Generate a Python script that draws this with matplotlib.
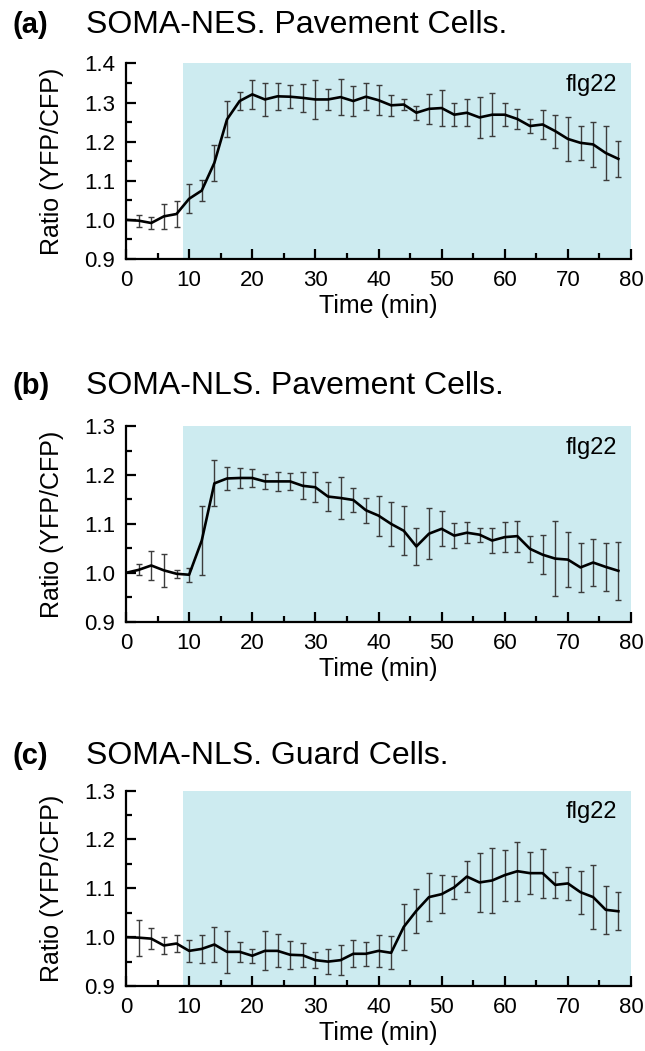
import numpy as np
import matplotlib
matplotlib.use("Agg")
import matplotlib.pyplot as plt
from matplotlib.ticker import MultipleLocator

plt.rcParams['font.family'] = ['Liberation Sans', 'DejaVu Sans']

# time points (min), one every 2 min
time = np.arange(0, 80, 2)

# (a) SOMA-NES, pavement cells
nes_pav = [1.000, 0.998, 0.992, 1.009, 1.015, 1.054, 1.075, 1.146, 1.257, 1.304,
           1.321, 1.308, 1.316, 1.315, 1.312, 1.308, 1.308, 1.314, 1.304, 1.315,
           1.306, 1.293, 1.295, 1.274, 1.284, 1.286, 1.269, 1.274, 1.262, 1.269,
           1.269, 1.258, 1.240, 1.244, 1.227, 1.207, 1.197, 1.193, 1.171, 1.156]
nes_pav_err = [np.nan, 0.015, 0.016, 0.032, 0.032, 0.037, 0.028, 0.046, 0.046, 0.023,
               0.038, 0.043, 0.034, 0.030, 0.035, 0.050, 0.026, 0.046, 0.039, 0.034,
               0.038, 0.027, 0.014, 0.018, 0.038, 0.047, 0.030, 0.035, 0.052, 0.055,
               0.029, 0.025, 0.017, 0.038, 0.042, 0.056, 0.044, 0.058, 0.068, 0.047]

# (b) SOMA-NLS, pavement cells
nls_pav = [1.000, 1.006, 1.015, 1.005, 0.998, 0.996, 1.066, 1.183, 1.193, 1.194,
           1.194, 1.187, 1.187, 1.187, 1.178, 1.175, 1.156, 1.153, 1.149, 1.128,
           1.117, 1.100, 1.086, 1.054, 1.080, 1.090, 1.076, 1.082, 1.078, 1.066,
           1.073, 1.075, 1.049, 1.037, 1.029, 1.027, 1.011, 1.021, 1.012, 1.004]
nls_pav_err = [np.nan, 0.011, 0.030, 0.034, 0.008, 0.014, 0.070, 0.047, 0.024, 0.021,
               0.019, 0.015, 0.020, 0.018, 0.028, 0.031, 0.029, 0.043, 0.024, 0.026,
               0.041, 0.045, 0.050, 0.038, 0.052, 0.036, 0.025, 0.022, 0.014, 0.026,
               0.031, 0.032, 0.027, 0.040, 0.076, 0.057, 0.050, 0.048, 0.049, 0.059]

# (c) SOMA-NLS, guard cells
nls_guard = [1.000, 0.999, 0.997, 0.983, 0.987, 0.972, 0.976, 0.985, 0.970, 0.970,
             0.962, 0.972, 0.972, 0.964, 0.963, 0.953, 0.950, 0.953, 0.966, 0.966,
             0.972, 0.968, 1.021, 1.054, 1.082, 1.088, 1.102, 1.124, 1.112, 1.116,
             1.127, 1.135, 1.131, 1.131, 1.107, 1.110, 1.092, 1.082, 1.056, 1.053]
nls_guard_err = [np.nan, 0.037, 0.022, 0.017, 0.017, 0.022, 0.029, 0.035, 0.043, 0.021,
                 0.014, 0.040, 0.034, 0.029, 0.025, 0.016, 0.025, 0.030, 0.028, 0.024,
                 0.033, 0.034, 0.047, 0.045, 0.049, 0.039, 0.023, 0.031, 0.060, 0.067,
                 0.052, 0.060, 0.043, 0.050, 0.026, 0.033, 0.044, 0.066, 0.049, 0.039]

panels = [
    ('(a)', 'SOMA-NES. Pavement Cells.', nes_pav, nes_pav_err, (0.9, 1.4), 0.7536, 25),
    ('(b)', 'SOMA-NLS. Pavement Cells.', nls_pav, nls_pav_err, (0.9, 1.3), 0.4085, 386),
    ('(c)', 'SOMA-NLS. Guard Cells.', nls_guard, nls_guard_err, (0.9, 1.3), 0.0618, 756),
]

flg22_start = 9
W, H = 645, 1051

fig = plt.figure(figsize=(6.45, 10.51), dpi=100)

for letter, title, mean, err, ylim, bottom, title_y in panels:
    ax = fig.add_axes([126 / W, bottom, 505 / W, 0.186])
    ax.axvspan(flg22_start, 80, color='#cdebf0', lw=0, zorder=0)
    ax.errorbar(time, mean, yerr=np.array(err), color='black', lw=1.9,
                ecolor='#3c3c3c', elinewidth=1.0, capsize=2.4, capthick=1.0, zorder=3)
    ax.set_xlim(0, 80)
    ax.set_ylim(*ylim)
    ax.xaxis.set_major_locator(MultipleLocator(10))
    ax.xaxis.set_minor_locator(MultipleLocator(5))
    ax.yaxis.set_major_locator(MultipleLocator(0.1))
    ax.yaxis.set_minor_locator(MultipleLocator(0.05))
    ax.yaxis.set_major_formatter(matplotlib.ticker.FormatStrFormatter('%.1f'))
    for s in ['top', 'right']:
        ax.spines[s].set_visible(False)
    for s in ['left', 'bottom']:
        ax.spines[s].set_linewidth(1.6)
    ax.tick_params(which='major', direction='in', length=7.5, width=1.6,
                   labelsize=16, pad=8)
    ax.tick_params(which='minor', direction='in', length=4.5, width=1.6)
    ax.set_xlabel('Time (min)', fontsize=18, va='center')
    ax.xaxis.set_label_coords(0.5, -0.24)
    ax.set_ylabel('Ratio (YFP/CFP)', fontsize=18, va='center')
    ax.yaxis.set_label_coords(-0.1465, 0.5)
    ax.text(0.972, 0.89, 'flg22', transform=ax.transAxes, ha='right', va='center',
            fontsize=17)

    fig.text(12 / W, 1 - title_y / H, letter, fontsize=21, fontweight='bold',
             ha='left', va='center')
    fig.text(86 / W, 1 - title_y / H, title, fontsize=23, ha='left', va='center')

fig.savefig('out.png', dpi=100)
